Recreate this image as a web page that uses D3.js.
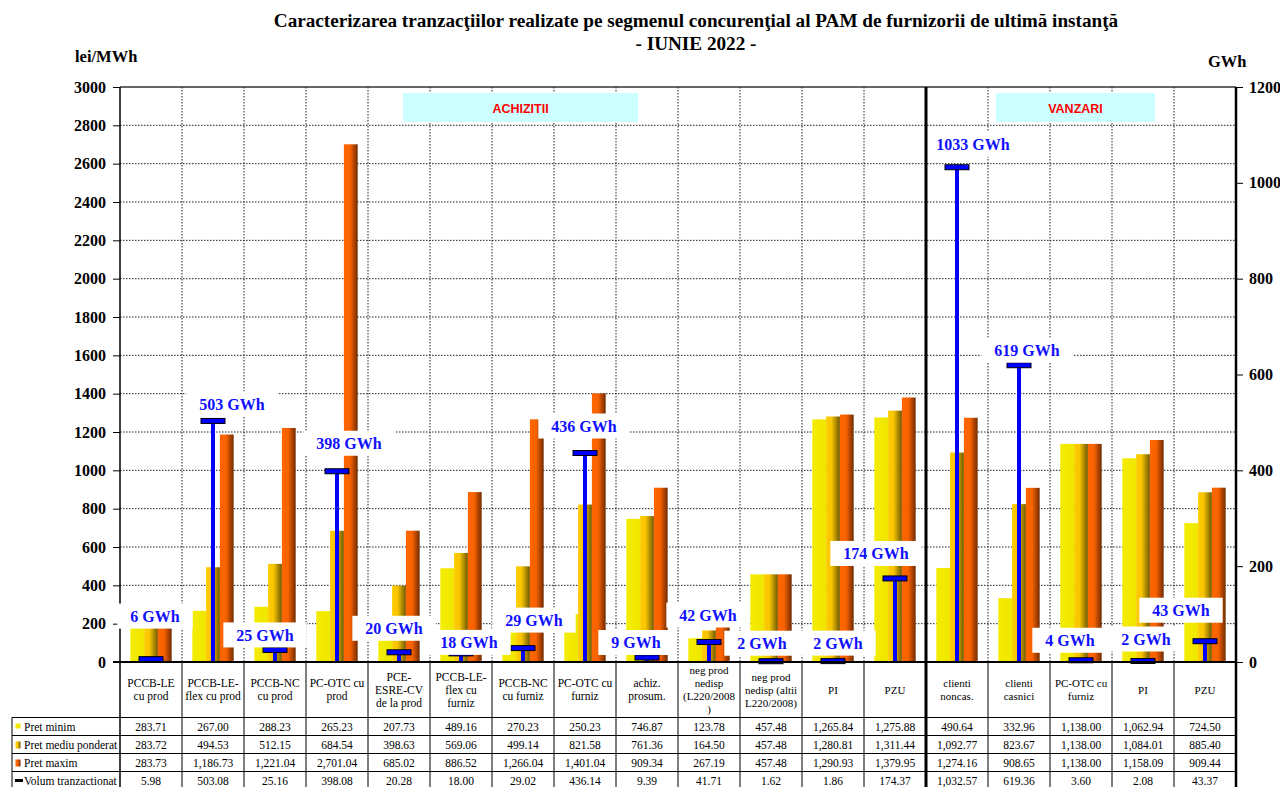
<!DOCTYPE html>
<html>
<head>
<meta charset="utf-8">
<script src="https://cdn.jsdelivr.net/npm/d3@7"></script>
<style>
  html, body { margin: 0; padding: 0; background: #fff; }
  svg { display: block; }
</style>
</head>
<body>
<svg id="chart" width="1280" height="787"></svg>
<script>
// ---------------- DATA ----------------
const categories = [
  "PCCB-LE\ncu prod", "PCCB-LE-\nflex cu prod", "PCCB-NC\ncu prod", "PC-OTC cu\nprod",
  "PCE-\nESRE-CV\nde la prod", "PCCB-LE-\nflex cu\nfurniz", "PCCB-NC\ncu furniz", "PC-OTC cu\nfurniz",
  "achiz.\nprosum.", "neg prod\nnedisp\n(L220/2008\n)", "neg prod\nnedisp (altii\nL220/2008)", "PI", "PZU",
  "clienti\nnoncas.", "clienti\ncasnici", "PC-OTC cu\nfurniz", "PI", "PZU"
];
const groups = ["ACHIZITII", "VANZARI"];
const groupSizes = [13, 5];
const pretMinim = [283.71, 267.00, 288.23, 265.23, 207.73, 489.16, 270.23, 250.23, 746.87, 123.78, 457.48, 1265.84, 1275.88, 490.64, 332.96, 1138.00, 1062.94, 724.50];
const pretMediu = [283.72, 494.53, 512.15, 684.54, 398.63, 569.06, 499.14, 821.58, 761.36, 164.50, 457.48, 1280.81, 1311.44, 1092.77, 823.67, 1138.00, 1084.01, 885.40];
const pretMaxim = [283.73, 1186.73, 1221.04, 2701.04, 685.02, 886.52, 1266.04, 1401.04, 909.34, 267.19, 457.48, 1290.93, 1379.95, 1274.16, 908.65, 1138.00, 1158.09, 909.44];
const volum = [5.98, 503.08, 25.16, 398.08, 20.28, 18.00, 29.02, 436.14, 9.39, 41.71, 1.62, 1.86, 174.37, 1032.57, 619.36, 3.60, 2.08, 43.37];
const seriesNames = ["Pret minim", "Pret mediu ponderat", "Pret maxim", "Volum tranzactionat"];
const leftTicks = d3.range(0, 3001, 200);
const rightTicks = d3.range(0, 1201, 200);
const titleLines = ["Caracterizarea tranzacţiilor realizate pe segmenul concurenţial al PAM de furnizorii de ultimă instanţă", "- IUNIE 2022 -"];
const leftUnit = "lei/MWh";
const rightUnit = "GWh";

// ---------------- LAYOUT (label nudges, px) ----------------
const labelNudge = [[4,-43],[19,-17],[-10,-15],[12,-28],[-5,-24],[8,-11],[11,-28],[-1,-27],[-11,-15],
  [-1,-27],[-9,-18],[5,-18],[-19,-25],[16,-23],[8,-15],[-11,-20],[3,-22],[-24,-31]];

const svg = d3.select("#chart");
const serif = "'Liberation Serif', 'Times New Roman', serif";
const sans = "'Liberation Sans', Arial, sans-serif";

const L = 120, R = 1236, T = 87, B = 662;
const tableBottom = 787, headerBottom = 717.5, rowH = 18, legendLeft = 12;

const x = d3.scaleBand().domain(d3.range(categories.length)).range([L, R]).padding(0);
const bw = x.bandwidth();
const xi = d3.scaleBand().domain([0,1,2]).range([bw/6, bw*5/6]).padding(0);
const yL = d3.scaleLinear().domain([0, 3000]).range([B, T]);
const yR = d3.scaleLinear().domain([0, 1200]).range([B, T]);

// gradients
const defs = svg.append("defs");
function grad(id, stops) {
  const g = defs.append("linearGradient").attr("id", id).attr("x1", "0").attr("x2", "1").attr("y1", "0").attr("y2", "0");
  stops.forEach(s => g.append("stop").attr("offset", s[0]).attr("stop-color", s[1]));
}
grad("gMin", [["0%", "#f4ec00"], ["100%", "#efe600"]]);
grad("gMed", [["0%", "#ffcc00"], ["40%", "#f7c400"], ["100%", "#6e5800"]]);
grad("gMax", [["0%", "#ff6600"], ["45%", "#f86200"], ["100%", "#702a00"]]);
const fills = ["url(#gMin)", "url(#gMed)", "url(#gMax)"];

// title
svg.append("g").selectAll("text").data(titleLines).join("text")
  .attr("x", 696).attr("y", (d, i) => 27 + i * 23)
  .attr("text-anchor", "middle").attr("font-family", serif).attr("font-weight", "bold").attr("font-size", 19.2)
  .text(d => d);
svg.append("text").attr("x", 75).attr("y", 62).attr("font-family", serif).attr("font-weight", "bold").attr("font-size", 16.5).text(leftUnit);
svg.append("text").attr("x", 1208).attr("y", 67).attr("font-family", serif).attr("font-weight", "bold").attr("font-size", 16.5).text(rightUnit);

// grid horizontal
svg.append("g").selectAll("line").data(leftTicks.filter(t => t > 0 && t < 3000)).join("line")
  .attr("x1", L).attr("x2", R).attr("y1", d => yL(d)).attr("y2", d => yL(d))
  .attr("stroke", "#222").attr("stroke-width", 1).attr("stroke-dasharray", "1.5,1.5");
svg.append("line").attr("x1", L).attr("x2", R).attr("y1", yL(3000)).attr("y2", yL(3000))
  .attr("stroke", "#333").attr("stroke-width", 1.5);
// grid vertical
svg.append("g").selectAll("line").data(d3.range(1, categories.length).filter(i => i !== groupSizes[0])).join("line")
  .attr("x1", i => x(i)).attr("x2", i => x(i)).attr("y1", T).attr("y2", B)
  .attr("stroke", "#222").attr("stroke-width", 1).attr("stroke-dasharray", "1.5,1.5");

// group boxes
const groupBoxes = [[403, 638], [996, 1155]];
groups.forEach((g, i) => {
  svg.append("rect").attr("x", groupBoxes[i][0]).attr("y", 93).attr("width", groupBoxes[i][1] - groupBoxes[i][0]).attr("height", 29).attr("fill", "#ccffff");
  svg.append("text").attr("x", (groupBoxes[i][0] + groupBoxes[i][1]) / 2).attr("y", 112.5).attr("text-anchor", "middle")
    .attr("font-family", sans).attr("font-weight", "bold").attr("font-size", 12.5).attr("fill", "#ff0000").text(g);
});

// bars
const priceSeries = [pretMinim, pretMediu, pretMaxim];
const barG = svg.append("g");
priceSeries.forEach((arr, s) => {
  barG.append("g").selectAll("rect").data(arr).join("rect")
    .attr("x", (d, i) => x(i) + xi(s)).attr("width", xi.bandwidth())
    .attr("y", d => yL(d)).attr("height", d => B - yL(d))
    .attr("fill", fills[s]);
});

// volume T markers
const volG = svg.append("g");
volG.selectAll("rect.stem").data(volum).join("rect").attr("class", "stem")
  .attr("x", (d, i) => x(i) + bw / 2 - 2).attr("width", 4)
  .attr("y", d => yR(d)).attr("height", d => B - yR(d)).attr("fill", "#0000ff");
volG.selectAll("rect.cap").data(volum).join("rect").attr("class", "cap")
  .attr("x", (d, i) => x(i) + bw / 2 - 12).attr("width", 24)
  .attr("y", d => yR(d) - 2.5).attr("height", 5).attr("fill", "#0000ff").attr("stroke", "#000").attr("stroke-width", 1);

// axes
const axL = svg.append("g").attr("transform", `translate(${L},0)`)
  .call(d3.axisLeft(yL).tickValues(leftTicks).tickSize(7).tickPadding(7).tickFormat(d3.format("d")));
const axR = svg.append("g").attr("transform", `translate(${R},0)`)
  .call(d3.axisRight(yR).tickValues(rightTicks).tickSize(7).tickPadding(6).tickFormat(d3.format("d")));
[axL, axR].forEach(a => {
  a.select(".domain").remove();
  a.selectAll("line").attr("stroke", "#000");
  a.selectAll("text").attr("font-family", serif).attr("font-weight", "bold").attr("font-size", 16).attr("fill", "#000");
});

// frame lines
svg.append("line").attr("x1", L).attr("x2", L).attr("y1", T).attr("y2", tableBottom).attr("stroke", "#000").attr("stroke-width", 1.5);
svg.append("line").attr("x1", R).attr("x2", R).attr("y1", T).attr("y2", tableBottom).attr("stroke", "#000").attr("stroke-width", 2.5);
svg.append("line").attr("x1", L - 7).attr("x2", R).attr("y1", B).attr("y2", B).attr("stroke", "#000").attr("stroke-width", 2);

// volume labels with white background (on top)
const labG = svg.append("g");
const labels = volum.map((v, i) => ({ i, v, text: Math.round(v) + " GWh",
  cx: x(i) + bw / 2 + labelNudge[i][0], cy: yR(v) + labelNudge[i][1] }));
const labText = labG.selectAll("text").data(labels).join("text")
  .attr("x", d => d.cx).attr("y", d => d.cy).attr("dy", "0.35em").attr("text-anchor", "middle")
  .attr("font-family", serif).attr("font-weight", "bold").attr("font-size", 16).attr("fill", "#1010ff")
  .text(d => d.text);
labText.each(function (d) { d.w = this.getComputedTextLength(); });
labG.selectAll("rect").data(labels).join("rect")
  .attr("x", d => d.cx - d.w / 2 - 13).attr("y", d => d.cy - 12.5)
  .attr("width", d => d.w + 26).attr("height", 25).attr("fill", "#fff");
labText.raise();

// table
const tab = svg.append("g");
tab.selectAll("line.v").data(d3.range(1, categories.length).filter(i => i !== groupSizes[0])).join("line").attr("class", "v")
  .attr("x1", i => x(i)).attr("x2", i => x(i)).attr("y1", B).attr("y2", tableBottom).attr("stroke", "#000").attr("stroke-width", 1);
tab.selectAll("line.h").data(d3.range(4)).join("line").attr("class", "h")
  .attr("x1", legendLeft).attr("x2", R).attr("y1", k => headerBottom + k * rowH).attr("y2", k => headerBottom + k * rowH)
  .attr("stroke", "#000").attr("stroke-width", 1);
tab.append("line").attr("x1", legendLeft).attr("x2", legendLeft).attr("y1", headerBottom).attr("y2", tableBottom).attr("stroke", "#000").attr("stroke-width", 1);
// separator
svg.append("line").attr("x1", x(groupSizes[0])).attr("x2", x(groupSizes[0])).attr("y1", T).attr("y2", tableBottom).attr("stroke", "#000").attr("stroke-width", 3);

// category labels
const catG = tab.append("g");
categories.forEach((c, i) => {
  const lines = c.split("\n");
  const fs = i < 9 ? 11.5 : 11;
  const lh = 13;
  const t = catG.append("text").attr("text-anchor", "middle").attr("font-family", serif).attr("font-size", fs);
  lines.forEach((ln, k) => {
    t.append("tspan").attr("x", x(i) + bw / 2)
      .attr("y", (B + headerBottom) / 2 + (k - (lines.length - 1) / 2) * lh).attr("dy", "0.35em").text(ln);
  });
});

// table values
const fmt = d3.format(",.2f");
const allSeries = [pretMinim, pretMediu, pretMaxim, volum];
allSeries.forEach((arr, r) => {
  const yc = headerBottom + r * rowH + rowH / 2;
  tab.append("g").selectAll("text").data(arr).join("text")
    .attr("x", (d, i) => x(i) + bw / 2).attr("y", yc).attr("dy", "0.35em").attr("text-anchor", "middle")
    .attr("font-family", serif).attr("font-size", 11.5).text(d => fmt(d));
  tab.append("text").attr("x", 24).attr("y", yc).attr("dy", "0.35em")
    .attr("font-family", serif).attr("font-size", 11.5).text(seriesNames[r]);
  if (r < 3) {
    tab.append("rect").attr("x", 15.5).attr("y", yc - 3).attr("width", 5).attr("height", r === 0 ? 5 : 7)
      .attr("fill", fills[r]);
  } else {
    tab.append("rect").attr("x", 15).attr("y", yc - 1.5).attr("width", 8).attr("height", 3).attr("fill", "#000");
  }
});
</script>
</body>
</html>
